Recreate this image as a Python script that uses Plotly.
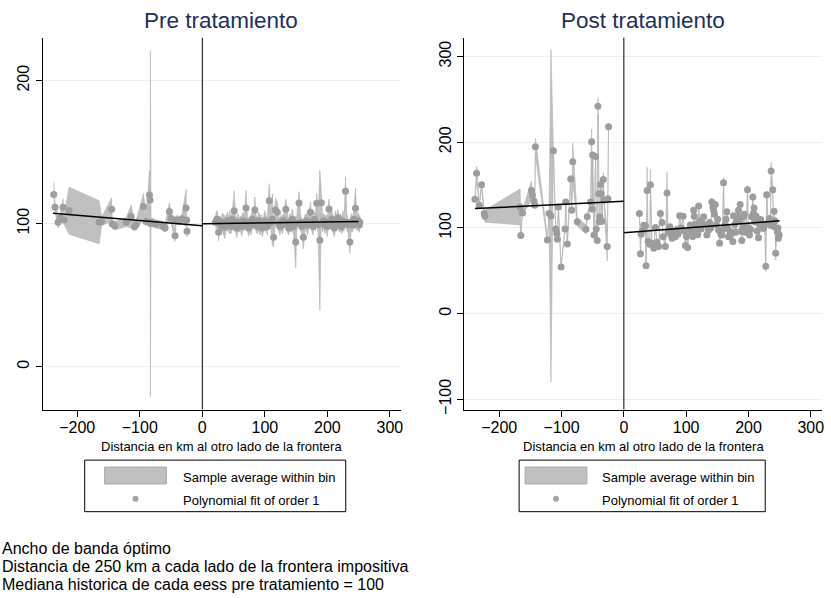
import numpy as np
import plotly.graph_objects as go

# ---------------- data ----------------
x_ticks = [-200, -100, 0, 100, 200, 300]
pre_y_ticks = [0, 100, 200]
post_y_ticks = [-100, 0, 100, 200, 300]

# Pre tratamiento, left of border
pre_neg_x = [-237.6, -235.5, -230.7, -227, -222.7, -221, -213, -165, -161, -145,
             -144, -140, -121.7, -113.8, -108.5, -105.8, -94, -90, -84.5, -83.5,
             -83, -82, -74, -63, -59.5, -52.6, -50, -43.6, -42, -36.7,
             -32.4, -26, -25, -24.5]
pre_neg_y = [120.4, 111.4, 101, 103.8, 111.4, 102.6, 109, 101, 101.5, 110,
             99.7, 98.5, 101, 105, 97.8, 99.2, 112, 101.5, 120, 116.5,
             100, 101, 99.7, 98.5, 96.9, 108.4, 103.8, 91.6, 102.6, 102,
             103.3, 111, 102.6, 94.6]
pre_neg_err = [9, 3, 4, 3, 6, 3, 16.5, 15, 3, 8,
               3, 3, 3, 8, 3, 3, 9, 3, 17, 5,
               121, 3, 3, 3, 3, 6, 3, 4, 3, 3,
               3, 13, 3, 4]

# Pre tratamiento, right of border
pre_pos_x = [21, 23, 24.5, 26, 28, 30, 32, 34, 36, 38,
             40, 42, 44, 46, 48, 51, 53, 55, 57, 59,
             61, 63, 65, 67, 70, 72, 74, 76, 78, 80,
             82, 84, 86, 88, 90, 92, 94, 96, 98, 100,
             102, 104, 107, 110, 112, 114, 117, 120, 122, 124,
             126, 128, 130, 133.5, 136, 138, 140, 142, 144, 146,
             149.4, 151, 154.7, 157, 159, 161.6, 164, 166, 168, 170,
             173, 175, 177, 179, 181, 182.9, 185, 188, 190.3, 192,
             194, 196, 198, 200, 202.6, 205, 207, 209, 211, 213,
             215, 217, 219, 221, 223, 225, 227, 229, 231, 233,
             236, 238, 240, 242, 245, 247, 249, 251, 252]
pre_pos_y = [101, 103, 102.8, 94, 100, 98.5, 101, 99, 97.5, 100,
             102, 99, 101, 98, 103, 109, 100, 97, 101, 99,
             100, 98, 102, 100, 111, 101, 97, 100, 99, 103,
             101, 109.6, 100, 98, 102, 99, 101, 97, 100, 102,
             100, 98, 116, 101, 103, 90.4, 109.6, 108, 100, 98,
             101, 99, 102, 110, 100, 97, 101, 99, 103, 98,
             87.2, 100, 114.4, 101, 98, 90.4, 100, 102, 99, 101,
             108, 100, 98, 103, 101, 114.2, 99, 88.3, 114.6, 100,
             102, 99, 101, 98, 110.2, 101, 103, 100, 97, 102,
             100, 104, 99, 101, 98, 102, 100, 122.7, 101, 99,
             87.2, 101, 99, 103, 110.7, 100, 102, 99, 101]
pre_pos_err = [5, 6, 5, 6, 5, 5, 6, 7, 8, 5,
               6, 5, 8, 5, 6, 14, 5, 7, 6, 5,
               5, 7, 6, 5, 12, 5, 6, 5, 7, 5,
               5, 9, 6, 5, 6, 7, 5, 6, 5, 7,
               5, 6, 12, 6, 18, 7, 8, 7, 5, 6,
               5, 6, 5, 7, 6, 5, 6, 5, 7, 6,
               18, 5, 8, 6, 5, 8, 6, 5, 7, 5,
               7, 5, 6, 5, 6, 7, 5, 49, 8, 6,
               5, 6, 5, 7, 7, 5, 6, 5, 6, 7,
               5, 6, 5, 6, 5, 7, 5, 10, 6, 5,
               8, 6, 5, 6, 14, 5, 6, 5, 5]

# Post tratamiento, left of border
post_neg_x = [-239, -236.3, -232, -228.3, -224, -223, -166.4, -165.3, -162.7, -148.3,
              -146.7, -144, -143, -141.9, -122.7, -120, -117, -113, -109.3, -107.7,
              -106.7, -105, -100.8, -94.4, -93.3, -90.7, -85.3, -83.7, -82, -74.7,
              -60.8, -58.7, -53.3, -51.7, -50.7, -50.1, -48, -45.3, -44.3, -42.7,
              -41.6, -40, -39.5, -38.4, -37.3, -36.3, -35.2, -33, -32, -26.7,
              -25.6, -24.5]
post_neg_y = [133.3, 163.8, 126.4, 150.3, 116.8, 113.7, 124.5, 91, 117.5, 143.7,
              138, 131, 126.4, 194.6, 86, 116.8, 114, 190, 98.7, 93.6,
              86.7, 124.5, 54.3, 98.7, 130.3, 81.3, 157.2, 120.6, 177.3, 107.1,
              98.3, 113, 130.3, 200.4, 121.8, 185, 91.7, 183.4, 98.7, 85.2,
              242, 139.9, 107.1, 113, 150.7, 139.9, 107.9, 156.5, 132.2, 78.2,
              134.1, 218.1]
post_neg_err = [2, 8, 2, 4, 3, 7, 21, 3, 3, 11,
                3, 3, 2, 10, 3, 3, 194, 4, 2, 2,
                3, 3, 2, 2, 3, 3, 4, 3, 22, 5,
                5, 3, 3, 15, 3, 3, 2, 3, 2, 3,
                10, 3, 2, 2, 3, 3, 2, 8, 3, 17,
                3, 4]

# Post tratamiento, right of border
post_pos_x = [25.0, 26.7, 27.7, 30.0, 32.0, 34.7, 35.7, 37.3, 39.0, 41.6,
              42.7, 45.0, 48.0, 50.7, 53.3, 56.0, 58.7, 61.3, 63.0, 66.7,
              69.3, 71.0, 73.6, 75.5, 77.3, 80.0, 82.7, 85.0, 87.0, 89.6,
              92.0, 95.0, 97.0, 98.7, 100.5, 102.4, 104.5, 106.7, 109.3, 110.5,
              112.0, 113.0, 115.0, 117.3, 118.5, 120.0, 121.5, 123.7, 126.0, 128.0,
              130.7, 133.3, 135.5, 137.6, 139.5, 141.3, 143.0, 144.0, 145.5, 146.7,
              148.5, 150.5, 152.0, 153.6, 155.5, 157.3, 158.5, 160.0, 161.5, 162.7,
              164.0, 165.3, 166.5, 168.0, 170.0, 172.0, 174.9, 176.0, 178.0, 179.5,
              181.3, 182.5, 184.0, 185.5, 186.7, 188.0, 189.3, 190.5, 192.0, 193.5,
              194.7, 196.5, 198.4, 200.0, 201.6, 203.5, 205.3, 206.9, 208.0, 209.0,
              210.5, 212.3, 214.0, 216.0, 218.0, 219.7, 222.0, 224.0, 226.0, 227.7,
              229.3, 231.5, 233.6, 235.0, 236.3, 238.9, 240.0, 241.0, 242.5, 243.7,
              245.0, 246.4, 247.2, 248.0, 249.2]
post_pos_y = [116.8, 69.7, 92.5, 97, 103, 102.5, 55.9, 143.7, 84, 80.9,
              150.3, 82, 76.3, 100.6, 83.2, 78.2, 116.8, 106.4, 89.8, 78.2,
              140.7, 95, 101.3, 92, 87.9, 95.6, 89.8, 98, 93, 114.1,
              100, 113.7, 96, 79.4, 90, 77.1, 98, 103.3, 94.8, 90,
              120.6, 113.7, 104, 99.4, 92, 125.6, 108, 98.7, 105, 112.9,
              103.3, 91.7, 97, 106.4, 100, 130.3, 124, 120.6, 116, 127.2,
              104, 110, 97.5, 82.1, 93, 91.7, 98, 152.6, 100, 103.3,
              110, 118.7, 100, 89.8, 96, 93, 84, 114.1, 104, 95,
              107.1, 113, 120.6, 108, 127.2, 96, 85.2, 100, 112.9, 116,
              94.8, 102, 144.5, 100, 91.7, 98, 112.9, 136, 117, 123.3,
              107, 113.7, 96, 88.6, 104, 109.8, 101, 99.4, 104, 55.1,
              138.7, 106, 111, 103, 166.5, 144.5, 102, 119.5, 108, 70.5,
              99.4, 95.6, 100, 87.9, 92]
post_pos_err = [1.5, 2, 1.5, 1.5, 1.5, 1.5, 2, 27, 1.5, 1.5,
                18, 1.5, 1.5, 1.5, 1.5, 1.5, 1.5, 1.5, 1.5, 1.5,
                24, 1.5, 1.5, 1.5, 1.5, 1.5, 1.5, 1.5, 1.5, 1.5,
                1.5, 1.5, 1.5, 1.5, 1.5, 1.5, 1.5, 1.5, 1.5, 1.5,
                1.5, 1.5, 1.5, 1.5, 1.5, 1.5, 1.5, 1.5, 1.5, 1.5,
                1.5, 1.5, 1.5, 1.5, 1.5, 4, 1.5, 1.5, 1.5, 1.5,
                1.5, 1.5, 1.5, 1.5, 1.5, 1.5, 1.5, 6, 1.5, 1.5,
                1.5, 1.5, 1.5, 1.5, 1.5, 1.5, 1.5, 1.5, 1.5, 1.5,
                1.5, 1.5, 1.5, 1.5, 3, 1.5, 1.5, 1.5, 1.5, 1.5,
                1.5, 1.5, 5, 1.5, 1.5, 1.5, 1.5, 4, 1.5, 1.5,
                1.5, 1.5, 1.5, 1.5, 1.5, 1.5, 1.5, 1.5, 1.5, 6,
                4, 1.5, 1.5, 1.5, 10, 4, 1.5, 1.5, 1.5, 8,
                1.5, 1.5, 1.5, 1.5, 1.5]

# linear fits (endpoints)
pre_fit_neg_x, pre_fit_neg_y = [-238.7, 0], [107.3, 98.5]
pre_fit_pos_x, pre_fit_pos_y = [0, 250], [99.9, 101.5]
post_fit_neg_x, post_fit_neg_y = [-239, 0], [122.5, 131]
post_fit_pos_x, post_fit_pos_y = [0, 250], [94.4, 108.3]

titles = ["Pre tratamiento", "Post tratamiento"]
x_title = "Distancia en km al otro lado de la frontera"
legend_labels = ["Sample average within bin", "Polynomial fit of order 1"]
notes = ["Ancho de banda óptimo",
         "Distancia de 250 km a cada lado de la frontera impositiva",
         "Mediana historica de cada eess pre tratamiento = 100"]

# ---------------- figure ----------------
W, H = 831, 598
FONT = "Liberation Sans, Arial, sans-serif"
BAND = "#c0c0c0"
BAND_EDGE = "#b2b2b2"
DOT = "#9d9d9d"
TITLE_C = "#1e2f5e"


def px(v):
    return v / W


def py(v):
    return 1 - v / H


fig = go.Figure()


def add_side(x, y, err, xa, ya):
    x = np.asarray(x, float)
    y = np.asarray(y, float)
    e = np.asarray(err, float)
    hi, lo = y + e, y - e
    fig.add_trace(go.Scatter(
        x=np.concatenate([x, x[::-1]]), y=np.concatenate([hi, lo[::-1]]),
        fill="toself", fillcolor=BAND, mode="lines",
        line=dict(color=BAND_EDGE, width=0.6),
        xaxis=xa, yaxis=ya, showlegend=False, hoverinfo="skip"))
    fig.add_trace(go.Scatter(
        x=x, y=y, mode="markers", marker=dict(color=DOT, size=7, line=dict(width=0)),
        xaxis=xa, yaxis=ya, showlegend=False))


add_side(pre_neg_x, pre_neg_y, pre_neg_err, "x", "y")
add_side(pre_pos_x, pre_pos_y, pre_pos_err, "x", "y")
add_side(post_neg_x, post_neg_y, post_neg_err, "x2", "y2")
add_side(post_pos_x, post_pos_y, post_pos_err, "x2", "y2")

for fx, fy, xa, ya in [(pre_fit_neg_x, pre_fit_neg_y, "x", "y"),
                       (pre_fit_pos_x, pre_fit_pos_y, "x", "y"),
                       (post_fit_neg_x, post_fit_neg_y, "x2", "y2"),
                       (post_fit_pos_x, post_fit_pos_y, "x2", "y2")]:
    fig.add_trace(go.Scatter(x=fx, y=fy, mode="lines",
                             line=dict(color="black", width=1.5),
                             xaxis=xa, yaxis=ya, showlegend=False))

ax_common = dict(showline=True, linecolor="black", linewidth=1, ticks="outside",
                 ticklen=6, tickcolor="black", tickwidth=1,
                 tickfont=dict(family=FONT, size=16, color="black"),
                 zeroline=False)

fig.update_layout(
    width=W, height=H, margin=dict(l=0, r=0, t=0, b=0),
    paper_bgcolor="white", plot_bgcolor="white", showlegend=False,
    xaxis=dict(domain=[px(43), px(402)], range=[-255, 317], anchor="y",
               tickvals=x_ticks, showgrid=False, ticklabelstandoff=-3, **ax_common),
    yaxis=dict(domain=[py(413), py(38)], range=[-30, 230], anchor="x",
               tickvals=pre_y_ticks, tickangle=-90, showgrid=True,
               gridcolor="#e9f1f2", gridwidth=1, **ax_common),
    xaxis2=dict(domain=[px(466), px(825)], range=[-256, 318], anchor="y2",
                tickvals=x_ticks, showgrid=False, ticklabelstandoff=-3, **ax_common),
    yaxis2=dict(domain=[py(413), py(38)], range=[-112, 322], anchor="x2",
                tickvals=post_y_ticks, tickangle=-90, showgrid=True,
                gridcolor="#e9f1f2", gridwidth=1, **ax_common),
)

shapes = []
# vertical line at the border
for xr, yr in [("x", "y domain"), ("x2", "y2 domain")]:
    shapes.append(dict(type="line", xref=xr, yref=yr, x0=0, x1=0, y0=0, y1=1,
                       line=dict(color="black", width=1), layer="above"))

annotations = []
# titles
for cx, t in [(221.5, titles[0]), (645, titles[1])]:
    annotations.append(dict(text=t, x=px(cx), y=py(21), xref="paper", yref="paper",
                            xanchor="center", yanchor="middle", showarrow=False,
                            font=dict(family=FONT, size=22.5, color=TITLE_C)))
# x-axis titles
for cx in [222.5, 645.5]:
    annotations.append(dict(text=x_title, x=px(cx), y=py(450), xref="paper", yref="paper",
                            xanchor="center", yanchor="middle", showarrow=False,
                            font=dict(family=FONT, size=13, color="black")))

# legends (drawn manually, one per panel)
for bx0, bx1, sw0, sw1, tx in [(85, 347, 105, 167, 182), (521, 768, 527, 589, 602)]:
    shapes.append(dict(type="rect", xref="paper", yref="paper",
                       x0=px(bx0), x1=px(bx1), y0=py(516), y1=py(464),
                       line=dict(color="black", width=1), fillcolor="white"))
    shapes.append(dict(type="rect", xref="paper", yref="paper",
                       x0=px(sw0), x1=px(sw1), y0=py(488), y1=py(471),
                       line=dict(color="#a8a8a8", width=1), fillcolor="#c0c0c0"))
    cxd = (sw0 + sw1) / 2
    shapes.append(dict(type="circle", xref="paper", yref="paper",
                       x0=px(cxd - 3), x1=px(cxd + 3), y0=py(506), y1=py(500),
                       line=dict(width=0), fillcolor="#a3a3a3"))
    for lab, ly in zip(legend_labels, [482, 505]):
        annotations.append(dict(text=lab, x=px(tx), y=py(ly), xref="paper", yref="paper",
                                xanchor="left", yanchor="middle", showarrow=False,
                                font=dict(family=FONT, size=13, color="black")))

# notes
for t, ly in zip(notes, [553, 571, 589]):
    annotations.append(dict(text=t, x=0, y=py(ly), xref="paper", yref="paper",
                            xanchor="left", yanchor="middle", showarrow=False,
                            font=dict(family=FONT, size=16, color="black")))

fig.update_layout(shapes=shapes, annotations=annotations)
fig.write_html("out.html")
